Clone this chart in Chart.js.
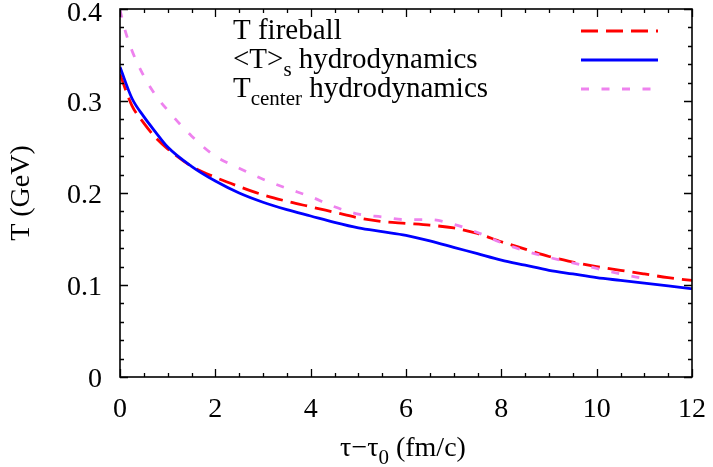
<!DOCTYPE html>
<html>
<head>
<meta charset="utf-8">
<script src="https://cdn.jsdelivr.net/npm/chart.js@4.4.0/dist/chart.umd.min.js"></script>
<style>
  body { margin: 0; background: #fff; }
  #chart { display: block; }
</style>
</head>
<body>
<canvas id="chart" width="713" height="467"></canvas>
<script>
// datos
const tauFireball = [0, 0.25, 0.5, 0.75, 1, 1.5, 2, 2.5, 3, 3.5, 4, 4.5, 5, 5.5, 6, 6.5, 7, 7.5, 8, 8.5, 9, 9.5, 10, 10.5, 11, 11.5, 12];
const tFireball = [0.329, 0.295, 0.276, 0.260, 0.248, 0.229, 0.217, 0.207, 0.198, 0.191, 0.185, 0.179, 0.173, 0.169, 0.167, 0.165, 0.162, 0.156, 0.147, 0.139, 0.131, 0.125, 0.120, 0.116, 0.112, 0.108, 0.105];

const tauHydro = [0, 0.25, 0.5, 0.75, 1, 1.5, 2, 2.5, 3, 3.5, 4, 4.5, 5, 5.5, 6, 6.5, 7, 7.5, 8, 8.5, 9, 9.5, 10, 10.5, 11, 11.5, 12];
const tHydroAvg = [0.337, 0.303, 0.283, 0.266, 0.250, 0.229, 0.213, 0.200, 0.190, 0.182, 0.175, 0.168, 0.162, 0.158, 0.154, 0.148, 0.141, 0.134, 0.127, 0.1215, 0.116, 0.112, 0.108, 0.105, 0.102, 0.099, 0.096];

const tauCenter = [0, 0.1, 0.25, 0.5, 0.75, 1, 1.5, 2, 2.5, 3, 3.5, 4, 4.5, 5, 5.5, 6, 6.5, 7, 7.5, 8, 8.5, 9, 9.5, 10, 10.5, 11];
const tCenter = [0.399, 0.378, 0.355, 0.327, 0.306, 0.290, 0.262, 0.240, 0.227, 0.215, 0.205, 0.196, 0.185, 0.177, 0.174, 0.171, 0.171, 0.166, 0.157, 0.146, 0.137, 0.130, 0.124, 0.118, 0.112, 0.107];

const xTicks = [0, 2, 4, 6, 8, 10, 12];
const yTicks = [0, 0.1, 0.2, 0.3, 0.4];

const SERIF = "'Liberation Serif', 'Times New Roman', serif";

function pts(xs, ys) {
    return xs.map((x, i) => ({ x: x, y: ys[i] }));
}

const datasets = [
    {
        label: "T fireball",
        data: pts(tauFireball, tFireball),
        borderColor: "#ff0000",
        borderDash: [17, 8],
        order: 2
    },
    {
        label: "<T>s hydrodynamics",
        data: pts(tauHydro, tHydroAvg),
        borderColor: "#0000ff",
        borderDash: [],
        order: 1
    },
    {
        label: "Tcenter hydrodynamics",
        data: pts(tauCenter, tCenter),
        borderColor: "#ee82ee",
        borderDash: [8, 12.5],
        order: 0
    }
];
datasets.forEach(d => {
    d.borderWidth = 2.8;
    d.pointRadius = 0;
    d.fill = false;
    d.cubicInterpolationMode = "monotone";
});

// marco con ticks hacia adentro (estilo gnuplot)
const framePlugin = {
    id: "frame",
    afterDatasetsDraw(chart) {
        const ctx = chart.ctx;
        const a = chart.chartArea;
        const xs = chart.scales.x, ys = chart.scales.y;
        ctx.save();
        ctx.strokeStyle = "#000";
        ctx.lineWidth = 1.3;
        ctx.setLineDash([]);
        ctx.beginPath();
        for (let v = 0; v <= 12.0001; v += 0.5) {
            const px = Math.round(xs.getPixelForValue(v)) + 0.5;
            const len = Math.abs(v % 2) < 1e-6 ? 8 : 4;
            ctx.moveTo(px, a.bottom); ctx.lineTo(px, a.bottom - len);
            ctx.moveTo(px, a.top); ctx.lineTo(px, a.top + len);
        }
        for (let i = 0; i <= 20; i++) {
            const v = i * 0.02;
            const py = Math.round(ys.getPixelForValue(v)) + 0.5;
            const len = i % 5 === 0 ? 8 : 4;
            ctx.moveTo(a.left, py); ctx.lineTo(a.left + len, py);
            ctx.moveTo(a.right, py); ctx.lineTo(a.right - len, py);
        }
        ctx.stroke();
        ctx.lineWidth = 1.6;
        ctx.strokeRect(a.left, a.top, a.right - a.left, a.bottom - a.top);
        ctx.restore();
    },
    afterDraw(chart) {
        const ctx = chart.ctx;
        const ys = chart.scales.y;
        ctx.save();
        ctx.fillStyle = "#000";

        // etiquetas eje y
        ctx.font = "28px " + SERIF;
        ctx.textAlign = "right";
        ctx.textBaseline = "middle";
        yTicks.forEach(v => {
            const py = Math.max(ys.getPixelForValue(v) + 3, 14);
            ctx.fillText(v === 0 ? "0" : v.toFixed(1), 102, py);
        });

        ctx.textAlign = "left";
        ctx.textBaseline = "alphabetic";

        // leyenda
        const rows = [
            { main: "T fireball", sub: "", rest: "" },
            { main: "<T>", sub: "s", rest: " hydrodynamics" },
            { main: "T", sub: "center", rest: " hydrodynamics" }
        ];
        const sampleY = [31, 60, 89];
        rows.forEach((r, i) => {
            let x = 233;
            const base = sampleY[i] + 8;
            ctx.font = "29px " + SERIF;
            ctx.fillText(r.main, x, base);
            x += ctx.measureText(r.main).width;
            if (r.sub) {
                ctx.font = "21px " + SERIF;
                ctx.fillText(r.sub, x, base + 8);
                x += ctx.measureText(r.sub).width;
                ctx.font = "29px " + SERIF;
                ctx.fillText(r.rest, x, base);
            }
            const ds = chart.data.datasets[i];
            ctx.strokeStyle = ds.borderColor;
            ctx.lineWidth = ds.borderWidth;
            ctx.setLineDash(ds.borderDash);
            ctx.beginPath();
            ctx.moveTo(581, sampleY[i]);
            ctx.lineTo(658, sampleY[i]);
            ctx.stroke();
        });
        ctx.setLineDash([]);

        // titulo eje x con subindice
        const p1 = "\u03c4\u2212\u03c4", p2 = "0", p3 = " (fm/c)";
        ctx.font = "28px " + SERIF;
        const w1 = ctx.measureText(p1).width, w3 = ctx.measureText(p3).width;
        ctx.font = "21px " + SERIF;
        const w2 = ctx.measureText(p2).width;
        let x = 403 - (w1 + w2 + w3) / 2;
        const base = 456;
        ctx.font = "28px " + SERIF;
        ctx.fillText(p1, x, base);
        x += w1;
        ctx.font = "21px " + SERIF;
        ctx.fillText(p2, x, base + 8);
        x += w2;
        ctx.font = "28px " + SERIF;
        ctx.fillText(p3, x, base);
        ctx.restore();
    }
};

const config = {
    type: "line",
    data: { datasets },
    options: {
        responsive: false,
        devicePixelRatio: 1,
        animation: false,
        layout: { padding: { top: 9, right: 21, left: 0, bottom: 0 } },
        plugins: { legend: { display: false }, tooltip: { enabled: false } },
        scales: {
            x: {
                type: "linear",
                min: 0,
                max: 12,
                afterBuildTicks: s => { s.ticks = xTicks.map(v => ({ value: v })); },
                ticks: {
                    color: "#000",
                    font: { family: SERIF, size: 28 },
                    padding: 16,
                    maxRotation: 0,
                    callback: v => String(v)
                },
                grid: { display: false, drawTicks: false },
                border: { display: false },
                afterFit: s => {
                    s.height = 90;
                    s.paddingLeft = 0; s.paddingRight = 0;
                }
            },
            y: {
                type: "linear",
                min: 0,
                max: 0.4,
                afterBuildTicks: s => { s.ticks = yTicks.map(v => ({ value: v })); },
                ticks: { display: false },
                title: {
                    display: true,
                    text: "T (GeV)",
                    color: "#000",
                    font: { family: SERIF, size: 28 },
                    padding: { top: 5, bottom: 0 }
                },
                grid: { display: false, drawTicks: false },
                border: { display: false },
                afterFit: s => {
                    s.width = 120;
                    s.paddingTop = 0; s.paddingBottom = 0;
                }
            }
        }
    },
    plugins: [framePlugin]
};

window.chart = new Chart(document.getElementById("chart"), config);
</script>
</body>
</html>
